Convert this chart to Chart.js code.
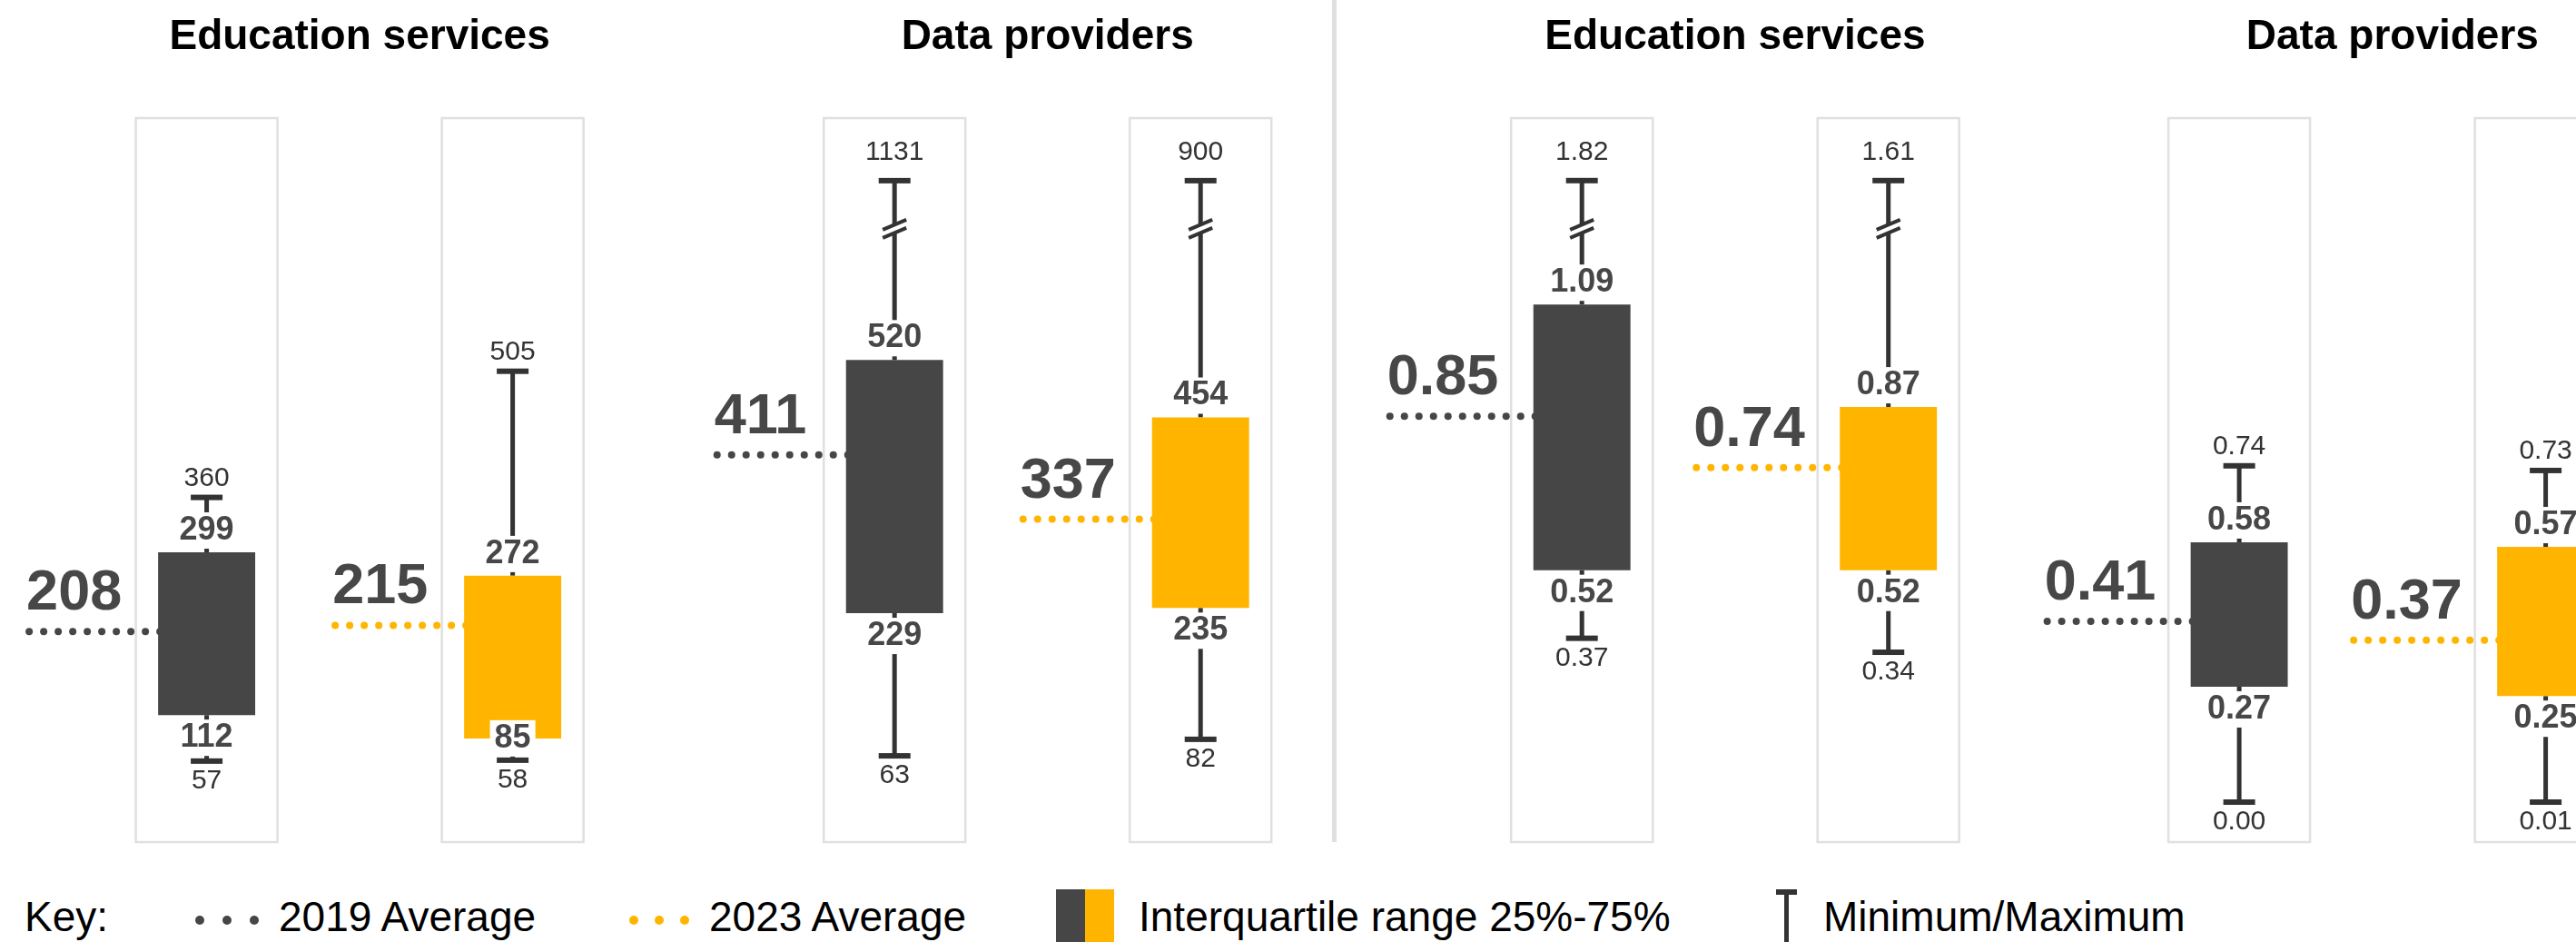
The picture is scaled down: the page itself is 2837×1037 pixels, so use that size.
<!DOCTYPE html>
<html>
<head>
<meta charset="utf-8">
<title>Education services and data providers</title>
<script src="https://cdn.jsdelivr.net/npm/chart.js@4.4.1/dist/chart.umd.min.js"></script>
<style>
  html, body { margin: 0; padding: 0; }
  body { width: 2837px; height: 1037px; overflow: hidden; position: relative; background: #fff;
         font-family: 'Liberation Sans', Arial, sans-serif; }
  canvas { position: absolute; top: 0; }
  #count-chart { left: 0; }
  #ratio-chart { left: 1480px; }
  #divider { position: absolute; left: 1467px; top: 0; width: 5px; height: 927px; background: #e0e0e0; }
  .key { position: absolute; top: 984px; line-height: 50px; font-size: 46px; color: #000; white-space: nowrap; }
  .dot { position: absolute; top: 1008px; width: 10px; height: 10px; border-radius: 50%; }
  .dk { background: #464646; }
  .am { background: #FFB500; }
  .swatch { position: absolute; top: 979px; width: 32px; height: 58px; }
  .stem { position: absolute; background: #333; }
</style>
</head>
<body>
<canvas id="count-chart" width="1540" height="960"></canvas>
<div id="divider"></div>
<canvas id="ratio-chart" width="1530" height="960"></canvas>

<!-- key -->
<span class="key" style="left:27px">Key:</span>
<i class="dot dk" style="left:215px"></i><i class="dot dk" style="left:245px"></i><i class="dot dk" style="left:275px"></i>
<span class="key" style="left:307px">2019 Average</span>
<i class="dot am" style="left:693px"></i><i class="dot am" style="left:721px"></i><i class="dot am" style="left:749px"></i>
<span class="key" style="left:781px">2023 Average</span>
<i class="swatch dk" style="left:1163px"></i><i class="swatch am" style="left:1195px"></i>
<span class="key" style="left:1254px">Interquartile range 25%-75%</span>
<i class="stem" style="left:1956px;top:979px;width:23px;height:6px"></i>
<i class="stem" style="left:1965px;top:979px;width:5px;height:58px"></i>
<span class="key" style="left:2008px">Minimum/Maximum</span>

<script>
'use strict';

// *************** DATA
const groups = ['Education services', 'Data providers'];

// left panel
const countMin2019 = [57, 63];
const countQ1_2019 = [112, 229];
const countQ3_2019 = [299, 520];
const countMax2019 = [360, 1131];
const countAvg2019 = [208, 411];

const countMin2023 = [58, 82];
const countQ1_2023 = [85, 235];
const countQ3_2023 = [272, 454];
const countMax2023 = [505, 900];
const countAvg2023 = [215, 337];

// right panel
const ratioMin2019 = [0.37, 0.00];
const ratioQ1_2019 = [0.52, 0.27];
const ratioQ3_2019 = [1.09, 0.58];
const ratioMax2019 = [1.82, 0.74];
const ratioAvg2019 = [0.85, 0.41];

const ratioMin2023 = [0.34, 0.01];
const ratioQ1_2023 = [0.52, 0.25];
const ratioQ3_2023 = [0.87, 0.57];
const ratioMax2023 = [1.61, 0.73];
const ratioAvg2023 = [0.74, 0.37];

// *************** STYLE
const FONT = "'Liberation Sans', Arial, sans-serif";
const DARK = '#464646';
const AMBER = '#FFB500';
const INK = '#333';
const LABEL = '#474747';

Chart.defaults.font.family = FONT;

// *************** HELPERS
function makeDataset(label, color, mins, q1s, q3s, maxs, avgs) {
  return {
    label: label,
    data: q1s.map((v, i) => [v, q3s[i]]),
    backgroundColor: color,
    borderWidth: 0,
    mins: mins, q1s: q1s, q3s: q3s, maxs: maxs, avgs: avgs
  };
}

function whiskerPixels(y, area, ds, i, opts) {
  const clipped = ds.maxs[i] > opts.capLimit;
  return {
    clipped: clipped,
    top: y.getPixelForValue(clipped ? opts.capLimit : ds.maxs[i]) - 2,
    bottom: Math.min(y.getPixelForValue(ds.mins[i]) - 2, area.bottom - 44),
    q3: y.getPixelForValue(ds.q3s[i]),
    q1: y.getPixelForValue(ds.q1s[i])
  };
}

function drawBreak(ctx, cx, by) {
  ctx.fillStyle = '#fff';
  ctx.beginPath();
  ctx.moveTo(cx - 13, by + 1);
  ctx.lineTo(cx + 13, by - 10);
  ctx.lineTo(cx + 13, by - 1);
  ctx.lineTo(cx - 13, by + 10);
  ctx.closePath();
  ctx.fill();
  ctx.strokeStyle = INK;
  ctx.lineWidth = 4;
  ctx.beginPath();
  ctx.moveTo(cx - 13, by + 1); ctx.lineTo(cx + 13, by - 10);
  ctx.moveTo(cx - 13, by + 10); ctx.lineTo(cx + 13, by - 1);
  ctx.stroke();
}

function patchLabel(ctx, text, x, y) {
  const w = ctx.measureText(text).width + 10;
  ctx.fillStyle = '#fff';
  ctx.fillRect(x - w / 2, y - 20, w, 40);
  ctx.fillStyle = LABEL;
  ctx.fillText(text, x, y);
}

// *************** PLUGIN: frames, whiskers, averages, labels
const boxWhisker = {
  id: 'boxWhisker',
  beforeDatasetsDraw(chart, args, opts) {
    const { ctx, chartArea } = chart;
    const y = chart.scales.y;
    chart.data.datasets.forEach((ds, d) => {
      chart.getDatasetMeta(d).data.forEach((bar, i) => {
        const cx = bar.x;
        const left = cx - bar.width / 2;
        ctx.save();
        ctx.strokeStyle = '#e0e0e0';
        ctx.lineWidth = 2.5;
        ctx.strokeRect(cx - 78, chartArea.top, 156, chartArea.bottom - chartArea.top);

        // dotted average line
        const ay = y.getPixelForValue(ds.avgs[i]);
        ctx.fillStyle = ds.backgroundColor;
        for (let k = 0; k < opts.dots; k++) {
          ctx.beginPath();
          ctx.arc(left + 2 - k * 16, ay, 4, 0, Math.PI * 2);
          ctx.fill();
        }

        // whiskers + caps
        const w = whiskerPixels(y, chartArea, ds, i, opts);
        ctx.strokeStyle = INK;
        ctx.fillStyle = INK;
        ctx.lineWidth = 5;
        ctx.beginPath();
        ctx.moveTo(cx, w.top); ctx.lineTo(cx, w.q3);
        ctx.moveTo(cx, w.q1); ctx.lineTo(cx, w.bottom);
        ctx.stroke();
        ctx.fillRect(cx - 17.5, w.top - 3, 35, 6);
        ctx.fillRect(cx - 17.5, w.bottom - 3, 35, 6);
        if (w.clipped) drawBreak(ctx, cx, w.top + 53);
        ctx.restore();
      });
    });
  },
  afterDatasetsDraw(chart, args, opts) {
    const { ctx, chartArea } = chart;
    const y = chart.scales.y;
    const fmt = v => v.toFixed(opts.decimals);
    chart.data.datasets.forEach((ds, d) => {
      chart.getDatasetMeta(d).data.forEach((bar, i) => {
        const cx = bar.x;
        const left = cx - bar.width / 2;
        const w = whiskerPixels(y, chartArea, ds, i, opts);
        ctx.save();
        ctx.textAlign = 'center';
        ctx.textBaseline = 'middle';
        ctx.font = '30px ' + FONT;
        ctx.fillStyle = INK;
        ctx.fillText(fmt(ds.maxs[i]), cx, w.top - (w.clipped ? 31 : 21));
        ctx.fillText(fmt(ds.mins[i]), cx, w.bottom + 22);

        ctx.font = 'bold 36px ' + FONT;
        patchLabel(ctx, fmt(ds.q3s[i]), cx, w.q3 - 24);
        patchLabel(ctx, fmt(ds.q1s[i]), cx, Math.min(w.q1 + 25, w.bottom - 24));

        const ay = y.getPixelForValue(ds.avgs[i]);
        ctx.font = 'bold 63px ' + FONT;
        ctx.textAlign = 'left';
        ctx.textBaseline = 'alphabetic';
        ctx.fillStyle = LABEL;
        ctx.fillText(fmt(ds.avgs[i]), left - 1 - (opts.dots - 1) * 16, ay - 24);
        ctx.restore();
      });
    });
  }
};

function panelOptions(pad, yMin, yMax, catPct, barPct, whisker) {
  return {
    responsive: false,
    animation: false,
    events: [],
    layout: { padding: pad },
    datasets: { bar: { categoryPercentage: catPct, barPercentage: barPct } },
    plugins: {
      legend: { display: false },
      tooltip: { enabled: false },
      boxWhisker: whisker
    },
    scales: {
      x: {
        position: 'top',
        grid: { display: false, drawTicks: false },
        border: { display: false },
        ticks: { color: '#000', padding: 61, maxRotation: 0, autoSkip: false,
                 font: { size: 46, weight: 'bold' } },
        afterFit: (axis) => { axis.height = 130; }
      },
      y: { display: false, min: yMin, max: yMax }
    }
  };
}

// *************** CHARTS
new Chart(document.getElementById('count-chart'), {
  type: 'bar',
  data: {
    labels: groups,
    datasets: [
      makeDataset('2019', DARK, countMin2019, countQ1_2019, countQ3_2019, countMax2019, countAvg2019),
      makeDataset('2023', AMBER, countMin2023, countQ1_2023, countQ3_2023, countMax2023, countAvg2023)
    ]
  },
  options: panelOptions({ left: 17.3, right: 7.5, top: 0, bottom: 33 }, -34, 798, 0.8897, 0.3173,
    { capLimit: 724, decimals: 0, dots: 10 }),
  plugins: [boxWhisker]
});

new Chart(document.getElementById('ratio-chart'), {
  type: 'bar',
  data: {
    labels: groups,
    datasets: [
      makeDataset('2019', DARK, ratioMin2019, ratioQ1_2019, ratioQ3_2019, ratioMax2019, ratioAvg2019),
      makeDataset('2023', AMBER, ratioMin2023, ratioQ1_2023, ratioQ3_2023, ratioMax2023, ratioAvg2023)
    ]
  },
  options: panelOptions({ left: 69, right: 13.2, top: 0, bottom: 33 }, -0.0634, 1.49, 0.9325, 0.3168,
    { capLimit: 1.352, decimals: 2, dots: 11 }),
  plugins: [boxWhisker]
});
</script>
</body>
</html>
